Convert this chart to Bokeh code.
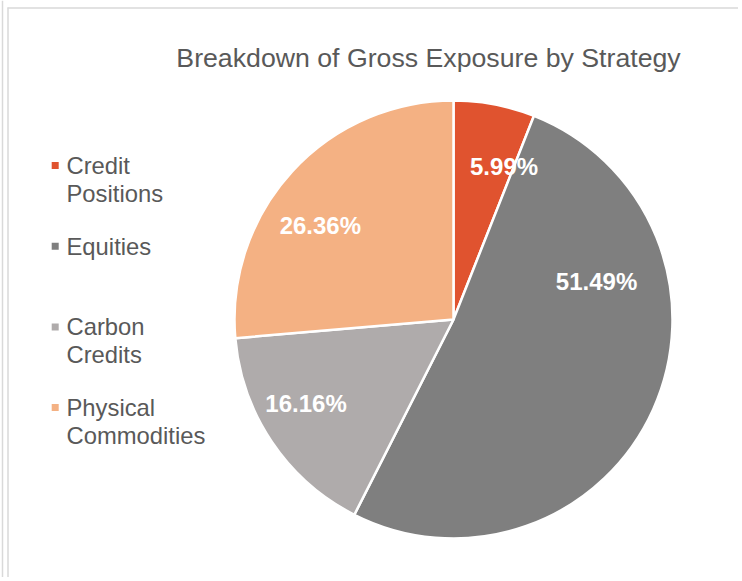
import math
from bokeh.plotting import figure
from bokeh.models import ColumnDataSource, Range1d
from bokeh.core.properties import value
from bokeh.embed import file_html
from bokeh.resources import INLINE

# ---- data ----
categories = ["Credit Positions", "Equities", "Carbon Credits", "Physical Commodities"]
legend_lines = [["Credit", "Positions"], ["Equities"], ["Carbon", "Credits"], ["Physical", "Commodities"]]
shares = [5.99, 51.49, 16.16, 26.36]
colors = ["#E0532F", "#7F7F7F", "#AFABAB", "#F4B183"]
title = "Breakdown of Gross Exposure by Strategy"

# ---- layout (page pixel coordinates) ----
W, H = 738, 577
PAGE_H = 581
def Y(py):
    return PAGE_H - py

cx, cy, R = 453, Y(319), 219
# label placement: (angle clockwise from top in degrees, radius fraction)
label_polar = [(18.3, 0.735), (75.1, 0.676), (240.3, 0.775), (305.2, 0.744)]

p = figure(width=W, height=H, output_backend="svg", toolbar_location=None,
           x_range=Range1d(0, W), y_range=Range1d(PAGE_H - H, PAGE_H),
           min_border=0)
p.axis.visible = False
p.grid.visible = False
p.outline_line_color = None
p.background_fill_color = "white"
p.border_fill_color = "white"

# frame lines (outer left, inner left, inner top)
p.segment(x0=[2, 7.5, 7], y0=[Y(0), Y(7), Y(7.5)], x1=[2, 7.5, W], y1=[Y(PAGE_H), Y(PAGE_H), Y(7.5)],
          line_color="#D9D9D9", line_width=1.5)

# wedges, clockwise from top
total = sum(shares)
starts, ends = [], []
acc = 0.0
for s in shares:
    starts.append(math.pi / 2 - 2 * math.pi * acc / total)
    acc += s
    ends.append(math.pi / 2 - 2 * math.pi * acc / total)
src = ColumnDataSource(dict(start=starts, end=ends, color=colors))
p.wedge(x=cx, y=cy, radius=R, start_angle="start", end_angle="end",
        direction="clock", fill_color="color", line_color="white",
        line_width=2.5, source=src)

# percentage labels
lx, ly, lt = [], [], []
for s, (ang, fr) in zip(shares, label_polar):
    a = math.radians(ang)
    lx.append(cx + fr * R * math.sin(a))
    ly.append(cy + fr * R * math.cos(a))
    lt.append(f"{s:.2f}%")
p.text(x=lx, y=ly, text=lt, text_color="white", text_font=value("Liberation Sans"),
       text_font_style="bold", text_font_size="24px", text_align="center",
       text_baseline="middle")

# title
p.text(x=[428], y=[Y(57)], text=[title], text_color="#595959",
       text_font=value("Liberation Sans"), text_font_size="26.7px",
       text_align="center", text_baseline="middle")

# legend
leg_top, leg_step, line_step = 165, 80.7, 27.5
sq_x, sq_size, tx = 54.7, 7, 66
sqx, sqy, tx_l, ty_l, tt_l = [], [], [], [], []
for i, lines in enumerate(legend_lines):
    y0 = leg_top + i * leg_step
    sqx.append(sq_x)
    sqy.append(Y(y0))
    for j, ln in enumerate(lines):
        tx_l.append(tx)
        ty_l.append(Y(y0 + j * line_step))
        tt_l.append(ln)
p.rect(x=sqx, y=sqy, width=sq_size, height=sq_size, fill_color=colors, line_color=None)
p.text(x=tx_l, y=ty_l, text=tt_l, text_color="#595959", text_font=value("Liberation Sans"),
       text_font_size="23.8px", text_align="left", text_baseline="middle")

open("out.html", "w").write(file_html(p, INLINE))
